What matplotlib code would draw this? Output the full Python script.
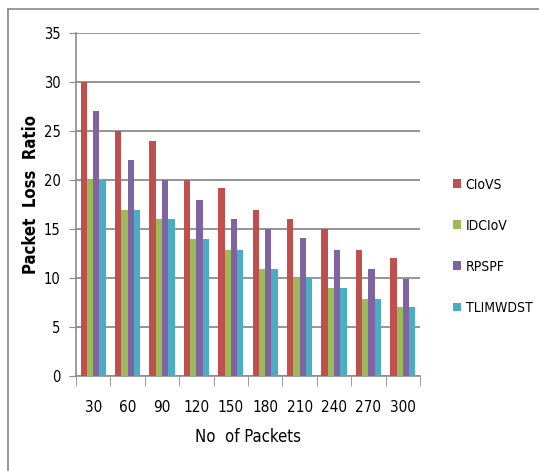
import matplotlib
matplotlib.use("Agg")
import matplotlib.pyplot as plt
import numpy as np
from matplotlib.lines import Line2D

plt.rcParams['font.family'] = ['DejaVu Sans']
plt.rcParams['font.stretch'] = 'condensed'

categories = ['30', '60', '90', '120', '150', '180', '210', '240', '270', '300']
series_names = ['CIoVS', 'IDCIoV', 'RPSPF', 'TLIMWDST']
ciovs = [30, 25, 24, 20, 19.2, 16.9, 16, 15, 12.9, 12]
idciov = [20, 16.9, 16, 14, 12.9, 10.9, 10, 9, 7.9, 7]
rpspf = [27, 22, 20, 18, 16, 15, 14.1, 12.9, 10.9, 9.9]
tlimwdst = [20, 16.9, 16, 14, 12.9, 10.9, 10, 9, 7.9, 7]
colors = ['#C0504D', '#9BBB59', '#8064A2', '#4BACC6']

W, H = 539, 471
fig = plt.figure(figsize=(W/100, H/100), dpi=100)
ax = fig.add_axes([76/W, 1-376/H, (420-76)/W, (376-33)/H])

# outer frame (top and left edges only)
fig.add_artist(Line2D([8/W, 1.0], [1-9/H, 1-9/H], transform=fig.transFigure,
                      color='#888888', linewidth=1.2))
fig.add_artist(Line2D([8/W, 8/W], [0.0, 1-9/H], transform=fig.transFigure,
                      color='#888888', linewidth=1.2))

x = np.arange(len(categories))
bw = 0.183
data = [ciovs, idciov, rpspf, tlimwdst]
for i, (vals, c, name) in enumerate(zip(data, colors, series_names)):
    ax.bar(x - 1.5*bw + i*bw, vals, width=bw, color=c, edgecolor='none', label=name, zorder=3)

ax.set_xlim(-0.5, len(categories)-0.5)
ax.set_ylim(0, 35)
ax.set_yticks(range(0, 36, 5))
ax.yaxis.grid(True, color='#8c8c8c', linewidth=1.3, zorder=0)
ax.set_axisbelow(True)
ax.set_xticks(x)
ax.set_xticklabels(categories, fontsize=11)
ax.set_xticks(np.arange(-0.5, len(categories), 1), minor=True)
ax.tick_params(axis='x', which='major', length=0, pad=17)
ax.tick_params(axis='x', which='minor', length=7, color='#8c8c8c', direction='out')
ax.tick_params(axis='y', length=5, color='#8c8c8c', labelsize=10.5, pad=6)
for s in ['top', 'right']:
    ax.spines[s].set_visible(False)
for s in ['left', 'bottom']:
    ax.spines[s].set_color('#8c8c8c')
    ax.spines[s].set_linewidth(1.2)

ax.set_xlabel('No  of Packets', fontsize=12, labelpad=10)
ax.set_ylabel('Packet  Loss  Ratio', fontsize=12, fontweight='bold')
ax.yaxis.set_label_coords((40-76)/344, (376-194)/343)

leg = fig.legend(loc='upper left', bbox_to_anchor=(447/W, 1-172/H), frameon=False,
                 fontsize=10, handlelength=0.6, handleheight=0.6, handletextpad=0.35,
                 labelspacing=1.95, borderaxespad=0)

fig.savefig('out.png', dpi=100)
